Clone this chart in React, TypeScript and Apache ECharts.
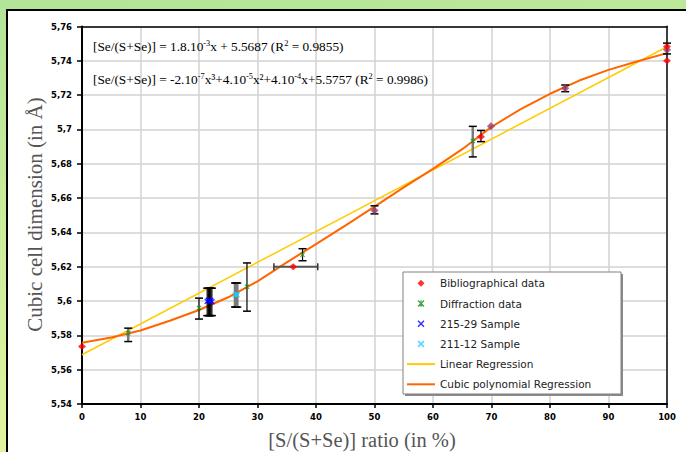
import React, { useEffect, useRef } from 'react';
import * as echarts from 'echarts';

// ---- data ----
const bibliographical = [[0, 5.5735], [36.1, 5.62], [68.2, 5.6957], [100, 5.7483], [100, 5.74]];
const otherReference = [[50, 5.6528], [69.9, 5.7019], [82.6, 5.724], [100, 5.7465]];
const diffraction = [[7.9, 5.5813], [20, 5.596], [28.2, 5.6084], [37.7, 5.627], [66.8, 5.6932]];
const sample21529 = [[21.4, 5.5998], [21.6, 5.6004], [21.8, 5.6], [22.0, 5.6003], [22.2, 5.5996]];
const sample21112 = [[26.15, 5.6035], [26.35, 5.604], [26.55, 5.6036]];
const linearFit = [[0, 5.5687], [100, 5.7482]];
const cubicFit = [
  [0, 5.5757], [5, 5.5787], [10, 5.5828], [15, 5.5885], [20, 5.5948], [25, 5.6022],
  [30, 5.6115], [35, 5.6225], [40, 5.6332], [45, 5.644], [50, 5.655], [55, 5.6662],
  [60, 5.677], [65, 5.6885], [70, 5.7015], [75, 5.7118], [80, 5.7208], [85, 5.7285],
  [90, 5.7347], [95, 5.7397], [100, 5.7445],
];
// [x, low, high]
const errorBarsBlack = [
  [20, 5.5895, 5.6017], [28.2, 5.5941, 5.6222], [37.7, 5.6235, 5.6305],
  [21.4, 5.5915, 5.6075], [21.6, 5.5915, 5.6075], [21.8, 5.5915, 5.6075], [22.0, 5.5915, 5.6075], [22.2, 5.5915, 5.6075],
  [68.2, 5.6929, 5.6994], [82.6, 5.722, 5.7259], [100, 5.744, 5.7503],
];
const errorBarsGray = [
  [7.9, 5.5764, 5.5842], [26.15, 5.5965, 5.6105], [26.35, 5.5965, 5.6105], [26.55, 5.5965, 5.6105],
  [50, 5.6508, 5.6555], [66.8, 5.684, 5.7018],
];
// [y, xLow, xHigh]
const errorBarsHorizontal = [[5.62, 32.8, 40.3]];

const legendNames = [
  'Bibliographical data', 'Diffraction data', '215-29 Sample', '211-12 Sample',
  'Linear Regression', 'Cubic polynomial Regression',
];

const X_PATH = 'path://M0,1.5L1.5,0L5,3.5L8.5,0L10,1.5L6.5,5L10,8.5L8.5,10L5,6.5L1.5,10L0,8.5L3.5,5Z';
const STAR_PATH = X_PATH + 'M4.3,0L5.7,0L5.7,10L4.3,10Z';
const DIAMOND_PATH = 'path://M5,0L10,5L5,10L0,5Z';
const LINE_ICON = 'path://M0,0L28,0L28,2L0,2Z';

function vRender(stem: string, stemWidth: number) {
  return (params: any, api: any) => {
    const x = api.value(0);
    const lo = api.coord([x, api.value(1)]);
    const hi = api.coord([x, api.value(2)]);
    const hw = 4;
    return {
      type: 'group',
      children: [
        { type: 'line', shape: { x1: lo[0], y1: lo[1], x2: hi[0], y2: hi[1] }, style: { stroke: stem, lineWidth: stemWidth } },
        { type: 'line', shape: { x1: hi[0] - hw, y1: hi[1], x2: hi[0] + hw, y2: hi[1] }, style: { stroke: '#000', lineWidth: 1.5 } },
        { type: 'line', shape: { x1: lo[0] - hw, y1: lo[1], x2: lo[0] + hw, y2: lo[1] }, style: { stroke: '#000', lineWidth: 1.5 } },
      ],
    };
  };
}

function hRender(params: any, api: any) {
  const y = api.value(0);
  const l = api.coord([api.value(1), y]);
  const r = api.coord([api.value(2), y]);
  const hh = 3.5;
  return {
    type: 'group',
    children: [
      { type: 'line', shape: { x1: l[0], y1: l[1], x2: r[0], y2: r[1] }, style: { stroke: '#555', lineWidth: 2 } },
      { type: 'line', shape: { x1: l[0], y1: l[1] - hh, x2: l[0], y2: l[1] + hh }, style: { stroke: '#333', lineWidth: 1.5 } },
      { type: 'line', shape: { x1: r[0], y1: r[1] - hh, x2: r[0], y2: r[1] + hh }, style: { stroke: '#333', lineWidth: 1.5 } },
    ],
  };
}

const tickLabel = { fontFamily: 'DejaVu Sans', fontWeight: 'bold' as const, fontSize: 8.5, color: '#000' };
const eqStyle = { fontFamily: 'Liberation Serif', fontSize: 13.3, fill: '#000' };
const supRich = {
  sup: { fontFamily: 'Liberation Serif', fontSize: 8.3, lineHeight: 8, verticalAlign: 'top' },
  n: { fontFamily: 'Liberation Serif', fontSize: 13.3, lineHeight: 14 },
};

export default function App() {
  const ref = useRef<HTMLDivElement>(null);
  useEffect(() => {
    if (!ref.current) return;
    const chart = echarts.init(ref.current, null, { renderer: 'svg' });
    const option: any = {
      animation: false,
      backgroundColor: 'transparent',
      grid: { left: 82, right: 19, top: 26.5, bottom: 48 },
      xAxis: [
        {
          type: 'value', min: 0, max: 100, interval: 10,
          axisLine: { show: true, onZero: false, lineStyle: { color: '#000', width: 2 } },
          axisTick: { show: true, length: 4, lineStyle: { color: '#000', width: 1.5 } },
          axisLabel: { ...tickLabel, margin: 8 },
          splitLine: { show: true, lineStyle: { color: '#d2d2d2', width: 1.5 } },
        },
        {
          type: 'value', position: 'top', min: 0, max: 100,
          axisLine: { show: true, onZero: false, lineStyle: { color: '#000', width: 1.5 } },
          axisTick: { show: false }, axisLabel: { show: false }, splitLine: { show: false },
        },
      ],
      yAxis: [
        {
          type: 'value', min: 5.54, max: 5.76, interval: 0.02,
          axisLine: { show: true, onZero: false, lineStyle: { color: '#000', width: 2 } },
          axisTick: { show: true, length: 5, lineStyle: { color: '#000', width: 1.5 } },
          axisLabel: {
            ...tickLabel, margin: 10,
            formatter: (v: number) => String(parseFloat(v.toFixed(2))).replace('.', ','),
          },
          splitLine: { show: true, lineStyle: { color: '#d2d2d2', width: 1.5 } },
        },
        {
          type: 'value', position: 'right', min: 5.54, max: 5.76,
          axisLine: { show: true, onZero: false, lineStyle: { color: '#404040', width: 2 } },
          axisTick: { show: false }, axisLabel: { show: false }, splitLine: { show: false },
        },
      ],
      legend: {
        orient: 'vertical', left: 407, top: 277.3, itemWidth: 28, itemHeight: 7, itemGap: 8.2,
        padding: 0, z: 20, selectedMode: false,
        textStyle: { fontFamily: 'DejaVu Sans', fontSize: 10.5, color: '#222', lineHeight: 12 },
        data: [
          { name: legendNames[0], icon: DIAMOND_PATH },
          { name: legendNames[1] },
          { name: legendNames[2] },
          { name: legendNames[3] },
          { name: legendNames[4], icon: LINE_ICON },
          { name: legendNames[5], icon: LINE_ICON },
        ],
      },
      graphic: [
        { type: 'rect', z: 10, shape: { x: 405, y: 274, width: 218, height: 122 }, style: { fill: '#8a8a8a' } },
        { type: 'rect', z: 11, shape: { x: 403, y: 272, width: 218, height: 122 }, style: { fill: '#fff', stroke: '#808080', lineWidth: 1 } },
        {
          type: 'text', z: 12, x: 93, y: 46,
          style: {
            ...eqStyle, verticalAlign: 'middle',
            text: '{n|[Se/(S+Se)] = 1.8.10}{sup|-3}{n|x + 5.5687 (R}{sup|2}{n| = 0.9855)}',
            rich: supRich,
          },
        },
        {
          type: 'text', z: 12, x: 93, y: 79,
          style: {
            ...eqStyle, verticalAlign: 'middle',
            text: '{n|[Se/(S+Se)] = -2.10}{sup|-7}{n|x³+4.10}{sup|-5}{n|x²+4.10}{sup|-4}{n|x+5.5757 (R}{sup|2}{n| = 0.9986)}',
            rich: supRich,
          },
        },
        {
          type: 'text', z: 12, x: 35, y: 214.5, rotation: Math.PI / 2,
          style: {
            text: 'Cubic cell dimension (in Å)', fontFamily: 'Liberation Serif', fontSize: 21,
            fill: '#555', align: 'center', verticalAlign: 'middle',
          },
        },
        {
          type: 'text', z: 12, x: 362, y: 439.5,
          style: {
            text: '[S/(S+Se)] ratio (in %)', fontFamily: 'Liberation Serif', fontSize: 20.5,
            fill: '#555', align: 'center', verticalAlign: 'middle',
          },
        },
      ],
      series: [
        { name: legendNames[4], type: 'line', data: linearFit, symbol: 'none', z: 3, color: '#ffcc00', lineStyle: { color: '#ffcc00', width: 1.5 } },
        { name: legendNames[5], type: 'line', data: cubicFit, symbol: 'none', z: 3, color: '#ff6600', lineStyle: { color: '#ff6600', width: 2 } },
        { name: 'errGray', type: 'custom', z: 4, data: errorBarsGray, encode: { x: 0, y: [1, 2] }, renderItem: vRender('#7a7a7a', 2.5) },
        { name: 'errBlack', type: 'custom', z: 4, data: errorBarsBlack, encode: { x: 0, y: [1, 2] }, renderItem: vRender('#000', 1.2) },
        { name: 'errH', type: 'custom', z: 4, data: errorBarsHorizontal, encode: { x: [1, 2], y: 0 }, renderItem: hRender },
        { name: 'otherRef', type: 'scatter', z: 5, data: otherReference, symbol: 'diamond', symbolSize: [8, 8], itemStyle: { color: '#9b3b6b' } },
        { name: legendNames[0], type: 'scatter', z: 6, data: bibliographical, symbol: 'diamond', symbolSize: [8, 7], itemStyle: { color: '#ff0000' } },
        { name: legendNames[1], type: 'scatter', z: 6, data: diffraction, symbol: STAR_PATH, symbolSize: 5, itemStyle: { color: '#1a8f1a' } },
        { name: legendNames[2], type: 'scatter', z: 6, data: sample21529, symbol: X_PATH, symbolSize: 6, itemStyle: { color: '#0000ff' } },
        { name: legendNames[3], type: 'scatter', z: 6, data: sample21112, symbol: X_PATH, symbolSize: 5.5, itemStyle: { color: '#22ccff' } },
      ],
    };
    chart.setOption(option);
    return () => chart.dispose();
  }, []);
  return (
    <div
      style={{
        position: 'absolute', left: 0, top: 0, width: 686, height: 452, overflow: 'hidden',
        background: 'linear-gradient(172deg, #b2e497 0%, #cdee9b 45%, #eaf6a0 100%)',
      }}
    >
      <div
        style={{
          position: 'absolute', left: 6, top: 9, width: 720, height: 500, background: '#fff',
          borderLeft: '2px solid #000', borderTop: '2px solid #000',
        }}
      />
      <div ref={ref} style={{ position: 'absolute', left: 0, top: 0, width: 686, height: 452 }} />
    </div>
  );
}
